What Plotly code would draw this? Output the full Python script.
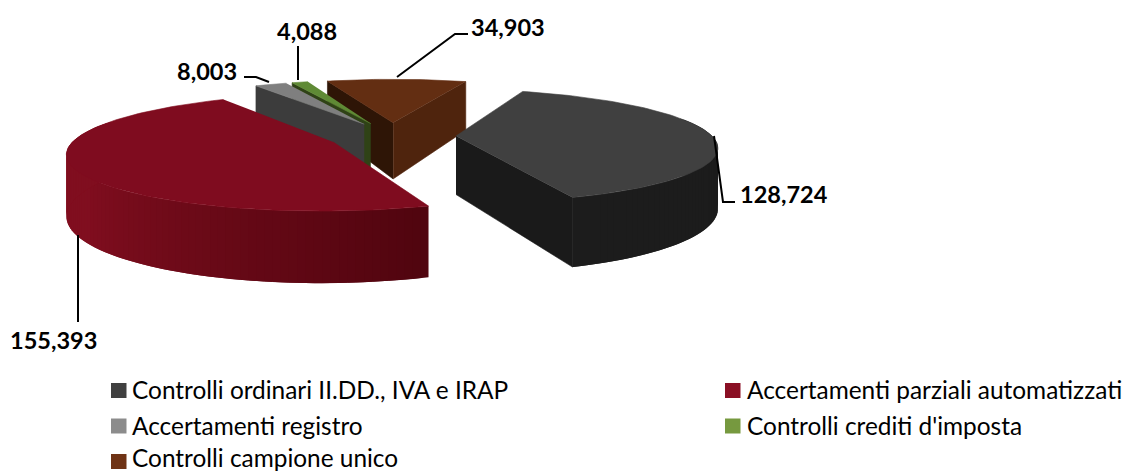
import numpy as np
import plotly.graph_objects as go

categories = ["Controlli ordinari II.DD., IVA e IRAP", "Accertamenti parziali automatizzati",
              "Accertamenti registro", "Controlli crediti d'imposta", "Controlli campione unico"]
values = [128724, 155393, 8003, 4088, 34903]
value_labels = ["128,724", "155,393", "8,003", "4,088", "34,903"]
legend_colors = ["#404040", "#8a0f24", "#8c8c8c", "#76993f", "#6f3315"]
top_colors = ["#404040", "#7f0c1f", "#7f7f7f", "#5f8a35", "#632e12"]
wall_near = ["#1a1a1a", "#50050f", "#3c3c3c", "#2f4216", "#4f240d"]
wall_far = ["#1c1c1c", "#800e1f", "#3c3c3c", "#2f4216", "#4f240d"]
radial_colors = ["#1a1a1a", "#50050f", "#3c3c3c", "#2f4216", "#2e1506"]

# projection of the tilted pie
X0, Y0, A, B, K, H = 392.0, 136.0, 256.0, 55.0, 0.17, 58.5
START, EXPLODE = 20.0, 0.25


def project(u, v, z=0.0):
    w = 1 + K * np.asarray(v)
    return X0 + A * np.asarray(u) / w, Y0 - B * np.asarray(v) / w + z * H / w


def rgb(c):
    return np.array([int(c[i:i + 2], 16) for i in (1, 3, 5)], float)


def mix(a, b, t):
    c = rgb(a) * (1 - t) + rgb(b) * t
    return "rgb(%d,%d,%d)" % tuple(c)


def poly(fig, u, v, z, color, edge=0.6):
    x, y = project(np.array(u), np.array(v), np.array(z))
    fig.add_trace(go.Scatter(x=x, y=y, mode="lines", fill="toself", fillcolor=color,
                             line=dict(color=color, width=edge), hoverinfo="skip", showlegend=False))


fig = go.Figure()
fractions = np.array(values) / sum(values) * 360
starts = START + np.concatenate([[0], np.cumsum(fractions)[:-1]])
slices = []
for i in range(len(values)):
    a0, a1 = starts[i], starts[i] + fractions[i]
    mid = np.radians((a0 + a1) / 2)
    slices.append((np.sin(mid) * EXPLODE, np.cos(mid) * EXPLODE, a0, a1))

for i in [4, 3, 2, 0, 1]:
    cu, cv, a0, a1 = slices[i]
    th = np.radians(np.linspace(a0, a1, max(int(fractions[i] / 1.5), 3)))
    au, av = cu + np.sin(th), cv + np.cos(th)
    # radial walls that face the viewer
    if i in (4, 3, 2):
        poly(fig, [cu, au[0], au[0], cu], [cv, av[0], av[0], cv], [0, 0, 1, 1], radial_colors[i])
    if i in (4, 0):
        c = wall_near[i] if i == 4 else radial_colors[i]
        poly(fig, [cu, au[-1], au[-1], cu], [cv, av[-1], av[-1], cv], [0, 0, 1, 1], c)
    # curved wall strips; each one overlaps the next so that no seam shows
    for j in range(len(th) - 1):
        m = (th[j] + th[j + 1]) / 2
        if np.cos(m) < 0.35:
            k = min(j + 2, len(th) - 1)
            t = min(1.0, (np.degrees(m) - a0) / 75.0)
            poly(fig, [au[j], au[k], au[k], au[j]], [av[j], av[k], av[k], av[j]],
                 [0, 0, 1, 1], mix(wall_near[i], wall_far[i], t), edge=0)
    # top face
    poly(fig, np.r_[cu, au], np.r_[cv, av], np.zeros(len(au) + 1), top_colors[i])

# leader lines and labels
leaders = {
    4: ([397, 455, 468], [77, 34, 34]),
    3: ([298, 298], [80, 46]),
    2: ([244, 256, 269], [77, 77, 82]),
    0: ([714, 723, 735], [136, 202, 202]),
    1: ([78, 78], [235, 322]),
}
for i, (lx, ly) in leaders.items():
    fig.add_trace(go.Scatter(x=lx, y=ly, mode="lines", line=dict(color="#000000", width=2),
                             hoverinfo="skip", showlegend=False))
label_pos = {4: (508, 27), 3: (307, 31), 2: (207, 71), 0: (784, 194), 1: (53, 340)}
for i, (px, py) in label_pos.items():
    fig.add_annotation(x=px, y=py, text=value_labels[i], showarrow=False,
                       font=dict(family="Lato", size=23.5, color="#000000", weight="bold"))

# legend block: a grid of two columns, three rows, filled row by row
legend_cols = [(111, 130), (725, 745)]
legend_rows = [390.5, 426, 461.5]
for i, name in enumerate(categories):
    sx, tx = legend_cols[i % 2]
    ry = legend_rows[i // 2]
    fig.add_shape(type="rect", x0=sx, x1=sx + 15.5, y0=ry - 7.5, y1=ry + 7.5,
                  fillcolor=legend_colors[i], line_width=0)
    fig.add_annotation(x=tx, y=ry - 4.5 if i == 4 else ry - 1, text=name, showarrow=False,
                       xanchor="left", yanchor="middle",
                       font=dict(family="Lato", size=24.4, color="#000000"))

fig.update_layout(
    width=1132, height=473, margin=dict(l=0, r=0, t=0, b=0), showlegend=False,
    paper_bgcolor="#ffffff", plot_bgcolor="#ffffff",
    xaxis=dict(range=[0, 1132], visible=False, fixedrange=True),
    yaxis=dict(range=[473, 0], visible=False, fixedrange=True),
)
fig.write_html("out.html", config={"displayModeBar": False},
               post_script="document.body.style.margin='0';")
